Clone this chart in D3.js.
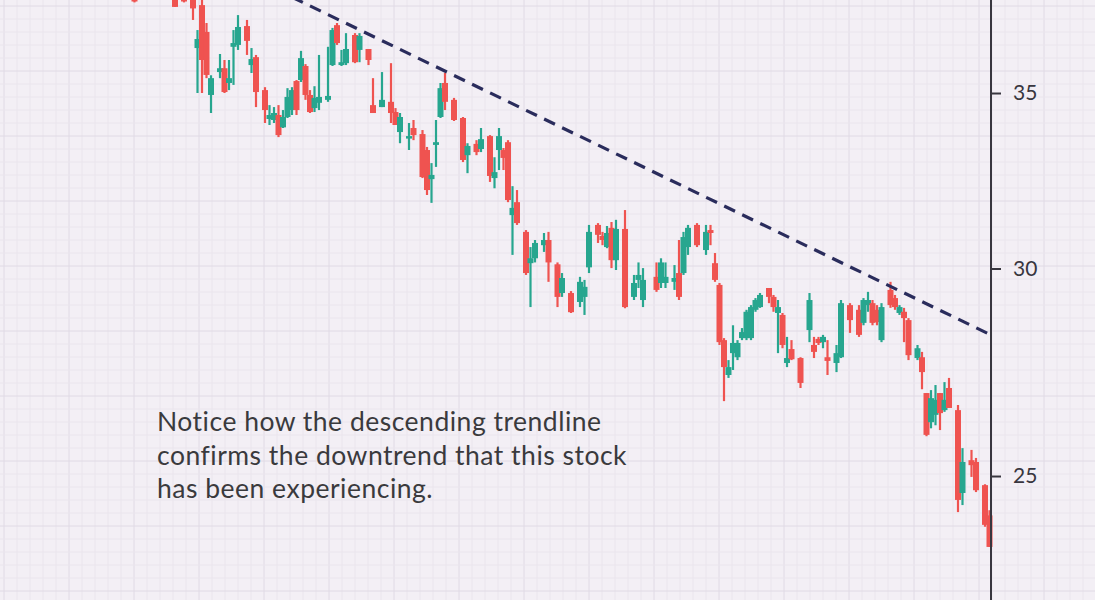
<!DOCTYPE html>
<html>
<head>
<meta charset="utf-8">
<script src="https://cdn.jsdelivr.net/npm/d3@7"></script>
<style>
  html, body { margin: 0; padding: 0; background: #f3eff6; }
  svg { display: block; }
</style>
</head>
<body>
<div id="chart"></div>
<script>
// ---- data (trading-day index, OHLC) ----
const days  = [1,10,12,14,15,16,17,18,20,21,22,23,24,26,27,28,30,31,32,33,34,35,36,37,38,39,40,41,42,44,45,46,47,48,50,51,53,54,56,58,59,60,62,63,65,66,67,68,69,70,72,74,75,77,78,80,81,82,83,84,85,86,88,89,90,92,93,95,96,98,100,101,102,104,105,106,107,108,110,112,113,114,117,118,119,121,122,123,124,126,128,129,130,131,132,133,134,135,136,137,138,139,140,142,143,144,145,146,147,149,151,152,153,154,155,157,158,160,162,163,164,165,166,167,169,170,171,172,173,175,176,177,178,179,180,181,182,184,185,187,188,190,191];
const open  = [38.60,38.30,38.40,38.10,36.41,37.81,36.93,34.94,35.65,35.77,35.31,36.45,36.51,37.12,35.87,36.12,35.09,34.21,34.18,34.33,33.96,34.27,34.48,35.37,35.40,35.84,34.94,34.54,34.70,34.79,35.87,37.15,35.87,35.93,36.83,36.35,36.38,34.63,34.57,34.73,34.42,33.82,33.64,33.94,33.76,33.29,32.45,33.44,34.27,35.31,34.79,34.24,33.14,33.47,33.32,33.70,32.48,33.29,33.29,33.52,31.44,31.80,30.98,30.14,30.27,30.62,30.76,30.11,29.36,29.36,29.13,29.26,30.03,31.17,30.87,30.57,31.09,30.22,31.06,29.26,29.70,29.18,29.78,29.62,29.62,29.65,29.88,29.88,30.57,31.17,30.49,31.03,30.14,29.57,28.17,27.32,27.85,27.75,28.22,28.22,28.22,28.93,29.00,29.49,29.26,28.85,28.80,27.61,27.95,27.73,28.42,28.05,28.20,28.12,27.75,27.61,27.75,29.05,28.93,28.60,29.05,29.10,28.93,28.17,29.44,29.23,28.85,28.88,28.67,27.73,27.75,26.89,26.21,26.38,26.89,26.49,27.01,26.49,24.63,25.35,25.31,24.80,24.15];
const high  = [38.80,38.50,38.60,38.30,36.99,38.20,37.22,35.55,36.22,36.03,36.03,36.99,37.48,37.32,36.41,36.19,35.18,34.63,34.57,34.63,34.48,35.15,35.18,35.40,36.32,35.90,35.09,35.21,36.19,36.45,37.06,37.22,36.35,36.89,36.89,36.89,36.38,35.46,35.65,35.93,34.54,34.39,34.09,34.18,33.88,33.38,32.91,34.18,35.31,35.62,34.85,34.27,33.49,33.58,33.94,33.73,33.08,33.94,33.35,33.58,32.25,32.14,31.03,30.57,30.76,30.95,30.98,30.16,29.88,29.41,29.78,29.70,31.17,31.22,30.98,31.14,31.25,31.31,31.58,29.83,30.16,30.01,30.16,30.27,30.16,30.09,30.76,30.98,31.17,31.22,31.17,31.17,30.41,29.62,28.22,27.68,28.54,28.17,28.47,28.93,29.05,29.23,29.36,29.49,29.31,29.18,28.85,28.25,28.17,27.75,29.36,28.25,28.25,28.30,28.17,28.05,29.18,29.10,29.05,29.23,29.39,29.18,29.05,29.10,29.65,29.31,29.05,28.98,28.72,28.05,27.88,26.89,26.96,27.08,26.89,27.15,27.25,26.61,25.62,25.58,25.40,24.82,24.26];
const low   = [37.90,37.75,37.90,37.32,35.00,35.00,35.46,34.39,35.46,35.00,35.09,35.25,36.35,36.19,35.62,34.57,34.09,34.03,34.09,33.67,33.94,34.24,34.33,34.33,35.34,34.79,34.39,34.42,34.48,34.73,35.84,36.51,35.84,35.87,35.93,35.96,35.87,34.39,34.57,34.09,34.03,33.49,33.29,33.58,32.48,32.00,31.78,32.80,34.24,34.48,34.15,32.94,32.62,33.14,33.23,32.37,32.19,32.71,32.71,31.80,30.36,31.17,29.83,29.00,30.16,30.44,29.65,29.00,29.26,28.85,29.00,28.80,29.88,30.68,30.62,30.54,30.01,29.96,28.97,29.18,29.49,29.00,29.39,29.49,29.49,29.44,29.18,29.83,30.36,30.57,30.36,30.62,29.65,28.05,26.70,27.25,27.44,27.68,28.17,28.17,28.17,28.88,28.98,29.10,28.88,27.85,27.97,27.51,27.68,27.01,28.12,27.73,28.05,27.97,27.32,27.39,27.73,28.35,28.25,28.54,28.88,28.54,28.54,28.12,28.98,28.93,28.80,28.12,27.68,27.68,26.98,25.89,26.07,26.14,26.03,26.45,26.54,24.22,24.37,24.98,24.65,23.91,23.49];
const close = [37.93,37.75,37.93,37.70,36.70,36.03,35.56,35.46,35.77,35.03,35.46,36.57,37.09,36.64,36.06,35.03,34.48,34.33,34.39,33.73,34.27,34.88,35.09,34.48,36.09,34.94,34.42,34.85,34.88,34.91,36.99,36.57,35.96,36.38,35.96,36.80,36.03,34.39,34.79,34.39,34.03,34.27,33.70,33.73,32.51,32.14,32.57,33.52,35.15,34.73,34.18,33.00,33.41,33.23,33.61,32.54,32.65,33.70,33.06,31.86,31.64,31.22,29.88,30.27,30.68,30.76,30.16,29.26,29.75,28.87,29.65,29.52,30.98,30.90,30.76,30.95,30.22,31.06,29.00,29.62,29.83,29.70,29.44,30.16,29.78,29.75,29.26,30.84,31.09,30.62,30.98,30.95,29.70,28.12,27.51,27.51,28.10,28.10,28.37,28.88,29.00,29.18,29.31,29.26,29.00,29.00,28.05,27.73,27.70,27.13,29.18,27.88,28.10,28.25,27.66,27.85,29.10,28.67,28.30,29.18,29.18,28.60,28.62,29.00,29.05,29.00,29.00,28.72,27.80,27.97,27.39,25.92,26.77,26.73,26.42,26.73,26.54,24.48,25.31,25.24,24.69,23.95,23.49];

// descending trendline: two anchor points (day, price)
const trendDays   = [28, 191.3];
const trendPrices = [38.66, 28.30];

const tickValues = [25, 30, 35];
const tickLabels = ["25", "30", "35"];

const noteLines = [
  "Notice how the descending trendline",
  "confirms the downtrend that this stock",
  "has been experiencing."
];

// ---- layout ----
const W = 1095, H = 600;
const axisX = 991;
const UP = "#27a68f", DOWN = "#ef5350";

const svg = d3.select("#chart").append("svg")
  .attr("width", W).attr("height", H);

svg.append("rect").attr("width", W).attr("height", H).attr("fill", "#f3eff5");

// grid (graph-paper background)
const grid = svg.append("g");
const minor = 13;
for (let gx = 4; gx < W; gx += minor) {
  const major = Math.round((gx - 4) / minor) % 5 === 0;
  grid.append("line").attr("x1", gx).attr("x2", gx).attr("y1", 0).attr("y2", H)
    .attr("stroke", major ? "#e0dae5" : "#eae5ed").attr("stroke-width", 1);
}
for (let gy = 6; gy < H; gy += minor) {
  const major = Math.round((gy - 6) / minor) % 5 === 0;
  grid.append("line").attr("x1", 0).attr("x2", W).attr("y1", gy).attr("y2", gy)
    .attr("stroke", major ? "#e0dae5" : "#eae5ed").attr("stroke-width", 1);
}

// scales
const x = d3.scaleLinear().domain([0, 190]).range([130, 985]);
const y = d3.scaleLog().domain([22.42, 37.98]).range([H, 0]);

const candles = days.map((d, i) => ({ d, o: open[i], h: high[i], l: low[i], c: close[i] }));

const cg = svg.append("g");
const bodyW = 6;
cg.selectAll("line.wick").data(candles).join("line")
  .attr("class", "wick")
  .attr("x1", d => x(d.d)).attr("x2", d => x(d.d))
  .attr("y1", d => y(d.h)).attr("y2", d => y(d.l))
  .attr("stroke", d => d.c >= d.o ? UP : DOWN)
  .attr("stroke-width", 2.2);
cg.selectAll("rect.body").data(candles).join("rect")
  .attr("class", "body")
  .attr("x", d => x(d.d) - bodyW / 2)
  .attr("width", bodyW)
  .attr("y", d => y(Math.max(d.o, d.c)))
  .attr("height", d => Math.max(2.5, Math.abs(y(d.o) - y(d.c))))
  .attr("fill", d => d.c >= d.o ? UP : DOWN);

// trendline
const trend = trendDays.map((d, i) => [x(d), y(trendPrices[i])]);
svg.append("path")
  .attr("d", d3.line()(trend))
  .attr("fill", "none")
  .attr("stroke", "#2a2c5c")
  .attr("stroke-width", 3.2)
  .attr("stroke-dasharray", "12,8");

// right axis
const axis = d3.axisRight(y)
  .tickValues(tickValues)
  .tickFormat((v, i) => tickLabels[i])
  .tickSize(10)
  .tickPadding(12);
const ag = svg.append("g").attr("transform", `translate(${axisX},0)`).call(axis);
ag.select(".domain").remove();
ag.append("line").attr("x1", 0).attr("x2", 0).attr("y1", 0).attr("y2", H)
  .attr("stroke", "#38363f").attr("stroke-width", 2);
ag.selectAll(".tick line").attr("stroke", "#38363f").attr("stroke-width", 2);
ag.selectAll(".tick text")
  .attr("fill", "#38363f")
  .style("font-family", "Lato, 'Open Sans', sans-serif")
  .style("font-size", "21px");

// annotation text
const tg = svg.append("text")
  .attr("x", 157).attr("y", 431)
  .attr("fill", "#3a3a3d")
  .style("font-family", "Lato, 'Open Sans', sans-serif")
  .style("font-size", "26.5px")
  .style("letter-spacing", "0.5px");
tg.selectAll("tspan").data(noteLines).join("tspan")
  .attr("x", 157)
  .attr("dy", (d, i) => i === 0 ? 0 : 33.5)
  .text(d => d);
</script>
</body>
</html>
